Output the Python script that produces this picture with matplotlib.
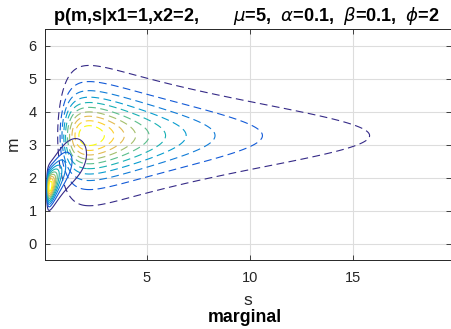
import numpy as np
import matplotlib
matplotlib.use('Agg')
import matplotlib.pyplot as plt
from matplotlib.colors import LinearSegmentedColormap

plt.rcParams['font.family'] = ['Liberation Sans', 'DejaVu Sans']
plt.rcParams['lines.dashed_pattern'] = [7.0, 4.0]

# ---- data ----
# posterior (dashed) field
dash_m_center = 3.27
dash_s_power = 1.8
dash_s_scale = 3.96
dash_t_dof = 3.0
dash_t_scale2 = 0.877
# s where each dashed contour crosses the centre line (outer -> inner)
dash_cross_s = [15.8, 10.6, 8.3, 6.9, 5.9, 5.1, 4.45, 3.9, 3.4, 2.93]

# marginal (solid) field
sol_s_power = 1.6
sol_s_scale = 0.072
sol_ridge_m0 = 1.62
sol_ridge_rise = 1.35
sol_ridge_half = 1.0
sol_var0 = 0.10
sol_var_slope = 0.13
sol_level_frac = [0.10, 0.19, 0.28, 0.37, 0.46, 0.55, 0.64, 0.73, 0.82, 0.91]

x_ticks = [5, 10, 15]
y_ticks = [0, 1, 2, 3, 4, 5, 6]
title_text = (r'p(m,s|x1=1,x2=2,       $\mu$=5,  $\alpha$=0.1,  '
              r'$\beta$=0.1,  $\phi$=2')

# ---- parula colormap ----
_par = [
    (0, (0.2081, 0.1663, 0.5292)), (5, (0.1707, 0.2919, 0.7792)),
    (8, (0.0117, 0.3875, 0.8820)), (12, (0.0498, 0.4586, 0.8641)),
    (16, (0.0793, 0.5200, 0.8312)), (21, (0.0265, 0.6137, 0.8135)),
    (26, (0.0384, 0.6743, 0.7436)), (31, (0.1801, 0.7177, 0.6424)),
    (36, (0.3953, 0.7459, 0.5244)), (41, (0.6099, 0.7473, 0.4337)),
    (46, (0.7858, 0.7356, 0.3633)), (51, (0.9450, 0.7261, 0.2886)),
    (53, (0.9938, 0.7455, 0.2403)), (56, (0.9880, 0.8066, 0.1794)),
    (60, (0.9598, 0.9218, 0.0948)), (63, (0.9763, 0.9831, 0.0538)),
]
parula = LinearSegmentedColormap.from_list('parula', [(i / 63, c) for i, c in _par])

# ---- fields ----
s = np.linspace(0.05, 19.75, 1600)
m = np.linspace(-0.5, 6.5, 701)
S, M = np.meshgrid(s, m)


def dash_field(mm, ss):
    g = ss ** (-dash_s_power) * np.exp(-dash_s_scale / ss)
    t = (1 + (mm - dash_m_center) ** 2 / (dash_t_dof * dash_t_scale2)) ** (-(dash_t_dof + 1) / 2)
    return g * t


def sol_field(mm, ss):
    g = ss ** (-sol_s_power) * np.exp(-sol_s_scale / ss ** 2)
    ridge = sol_ridge_m0 + sol_ridge_rise * ss ** 2 / (ss ** 2 + sol_ridge_half ** 2)
    var = sol_var0 + sol_var_slope * ss ** 2
    return g * np.exp(-(mm - ridge) ** 2 / (2 * var))


Z1 = dash_field(M, S)
lev1 = np.sort(dash_field(dash_m_center, np.array(dash_cross_s)))
Z2 = sol_field(M, S)
lev2 = np.array(sol_level_frac) * Z2.max()

cols1 = [parula(i / (len(lev1) - 1)) for i in range(len(lev1))]
cols2 = [parula(i / (len(lev2) - 1)) for i in range(len(lev2))]

W, H = 452, 329
fig = plt.figure(figsize=(W / 100, H / 100), dpi=100)
ax = fig.add_axes([45 / W, 69 / H, 406 / W, 231 / H])

ax.contour(S, M, Z1, levels=lev1, colors=cols1, linewidths=0.8, linestyles='dashed')
ax.contour(S, M, Z2, levels=lev2, colors=cols2, linewidths=0.8, linestyles='solid')

ax.set_xlim(0.05, 19.75)
ax.set_ylim(-0.5, 6.5)
ax.set_xticks(x_ticks)
ax.set_yticks(y_ticks)
ax.grid(True, color='#dddddd', linewidth=0.8)
ax.set_axisbelow(True)
ax.tick_params(direction='in', length=3.5, width=0.6, top=True, right=True,
               colors='#262626', labelsize=10.5)
ax.tick_params(axis='x', pad=8)
ax.tick_params(axis='y', pad=6)
for sp in ax.spines.values():
    sp.set_color('#262626')
    sp.set_linewidth(0.7)

fig.text(246 / W, 1 - 21 / H, title_text, ha='center', va='baseline',
         fontsize=13.1, fontweight='bold', color='black')
fig.text(248 / W, 1 - 305 / H, 's', ha='center', va='baseline', fontsize=12.5, color='#262626')
fig.text(245 / W, 1 - 322.5 / H, 'marginal', ha='center', va='baseline', fontsize=12.8,
         fontweight='bold', color='black')
fig.text(13 / W, 1 - 144 / H, 'm', ha='center', va='center', rotation=90,
         fontsize=12.5, color='#262626')

fig.savefig('out.png', dpi=100)
